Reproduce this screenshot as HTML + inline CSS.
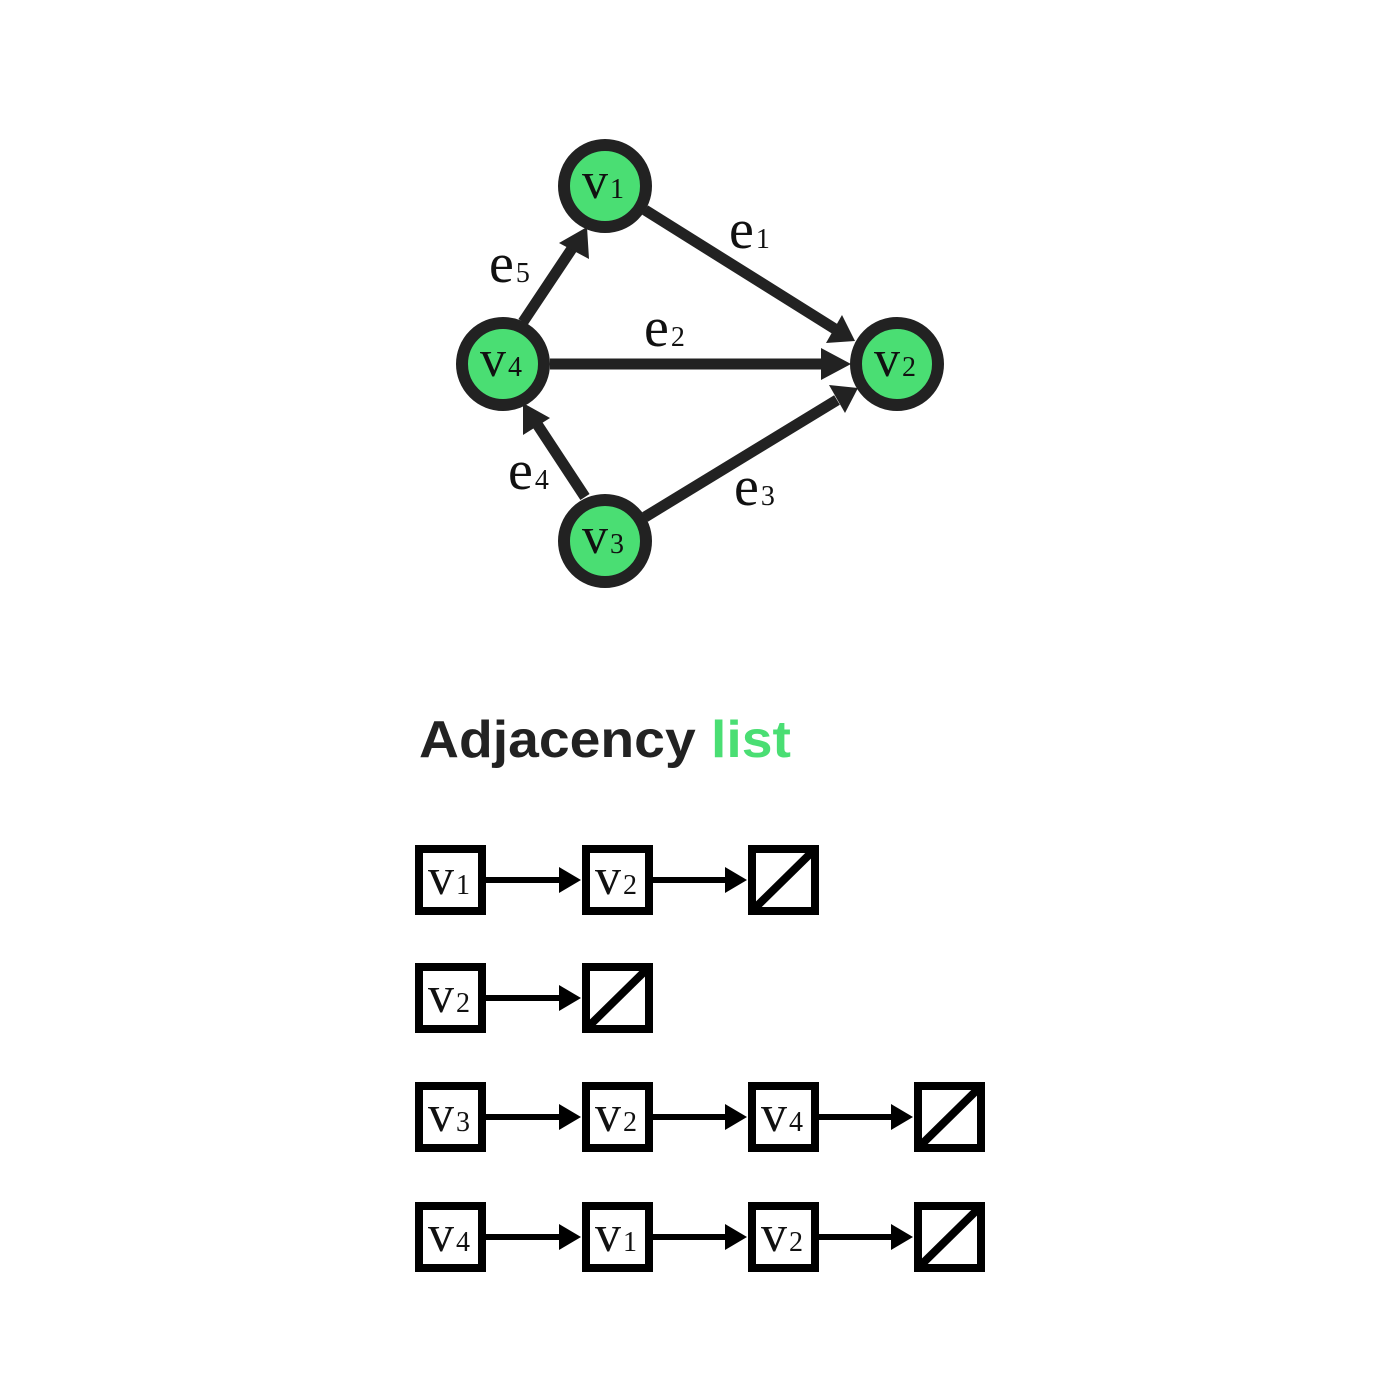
<!DOCTYPE html>
<html><head><meta charset="utf-8"><style>
html,body{margin:0;padding:0;background:#fff}
svg{display:block}
.v{font-family:"Liberation Serif",serif;font-size:52px;fill:#111}
.s{font-size:28px}
.e{font-family:"Liberation Serif",serif;font-size:56px;fill:#111}
</style></head><body>
<svg width="1400" height="1400" viewBox="0 0 1400 1400" xmlns="http://www.w3.org/2000/svg">
<g stroke="#222" stroke-width="11" fill="none">
<line x1="645" y1="210" x2="835" y2="329"/>
<line x1="550" y1="364" x2="828" y2="364"/>
<line x1="645" y1="517" x2="837" y2="400"/>
<line x1="585" y1="497" x2="537" y2="424"/>
<line x1="523" y1="322" x2="573" y2="247"/>
</g>
<g fill="#222">
<polygon points="855,341 826,343 842,315"/>
<polygon points="851,364 821,348 821,380"/>
<polygon points="858,388 829,385 845,413"/>
<polygon points="523,403 550,418 523,435"/>
<polygon points="587,227 589,259 559,243"/>
</g>
<g fill="#4ade73" stroke="#222" stroke-width="12">
<circle cx="605" cy="186" r="41"/>
<circle cx="503" cy="364" r="41"/>
<circle cx="897" cy="364" r="41"/>
<circle cx="605" cy="541" r="41"/>
</g>
<text class="v" x="582" y="198">v<tspan class="s" dx="2">1</tspan></text>
<text class="v" x="480" y="376">v<tspan class="s" dx="2">4</tspan></text>
<text class="v" x="874" y="376">v<tspan class="s" dx="2">2</tspan></text>
<text class="v" x="582" y="553">v<tspan class="s" dx="2">3</tspan></text>
<text class="e" x="729" y="248">e<tspan class="s" dx="2">1</tspan></text>
<text class="e" x="644" y="346">e<tspan class="s" dx="2">2</tspan></text>
<text class="e" x="734" y="505">e<tspan class="s" dx="2">3</tspan></text>
<text class="e" x="508" y="489">e<tspan class="s" dx="2">4</tspan></text>
<text class="e" x="489" y="282">e<tspan class="s" dx="2">5</tspan></text>
<text x="419" y="757" font-family="Liberation Sans,sans-serif" font-weight="bold" font-size="52" fill="#222" textLength="372" lengthAdjust="spacingAndGlyphs">Adjacency <tspan fill="#4ade73">list</tspan></text>
<g stroke="#000" stroke-width="8" fill="#fff">
<rect x="419" y="849" width="63" height="62"/><rect x="586" y="849" width="63" height="62"/><rect x="752" y="849" width="63" height="62"/>
<rect x="419" y="967" width="63" height="62"/><rect x="586" y="967" width="63" height="62"/>
<rect x="419" y="1086" width="63" height="62"/><rect x="586" y="1086" width="63" height="62"/><rect x="752" y="1086" width="63" height="62"/><rect x="918" y="1086" width="63" height="62"/>
<rect x="419" y="1206" width="63" height="62"/><rect x="586" y="1206" width="63" height="62"/><rect x="752" y="1206" width="63" height="62"/><rect x="918" y="1206" width="63" height="62"/>
</g>
<g stroke="#000" stroke-width="8">
<line x1="754" y1="909" x2="813" y2="851"/>
<line x1="588" y1="1027" x2="647" y2="969"/>
<line x1="920" y1="1146" x2="979" y2="1088"/>
<line x1="920" y1="1266" x2="979" y2="1208"/>
</g>
<g stroke="#000" stroke-width="6">
<line x1="486" y1="880" x2="562" y2="880"/><line x1="653" y1="880" x2="728" y2="880"/>
<line x1="486" y1="998" x2="562" y2="998"/>
<line x1="486" y1="1117" x2="562" y2="1117"/><line x1="653" y1="1117" x2="728" y2="1117"/><line x1="819" y1="1117" x2="894" y2="1117"/>
<line x1="486" y1="1237" x2="562" y2="1237"/><line x1="653" y1="1237" x2="728" y2="1237"/><line x1="819" y1="1237" x2="894" y2="1237"/>
</g>
<g fill="#000">
<polygon points="581,880 559,867 559,893"/><polygon points="747,880 725,867 725,893"/>
<polygon points="581,998 559,985 559,1011"/>
<polygon points="581,1117 559,1104 559,1130"/><polygon points="747,1117 725,1104 725,1130"/><polygon points="913,1117 891,1104 891,1130"/>
<polygon points="581,1237 559,1224 559,1250"/><polygon points="747,1237 725,1224 725,1250"/><polygon points="913,1237 891,1224 891,1250"/>
</g>
<text class="v" x="428" y="894">v<tspan class="s" dx="2">1</tspan></text>
<text class="v" x="595" y="894">v<tspan class="s" dx="2">2</tspan></text>
<text class="v" x="428" y="1012">v<tspan class="s" dx="2">2</tspan></text>
<text class="v" x="428" y="1131">v<tspan class="s" dx="2">3</tspan></text>
<text class="v" x="595" y="1131">v<tspan class="s" dx="2">2</tspan></text>
<text class="v" x="761" y="1131">v<tspan class="s" dx="2">4</tspan></text>
<text class="v" x="428" y="1251">v<tspan class="s" dx="2">4</tspan></text>
<text class="v" x="595" y="1251">v<tspan class="s" dx="2">1</tspan></text>
<text class="v" x="761" y="1251">v<tspan class="s" dx="2">2</tspan></text>
</svg>
</body></html>
